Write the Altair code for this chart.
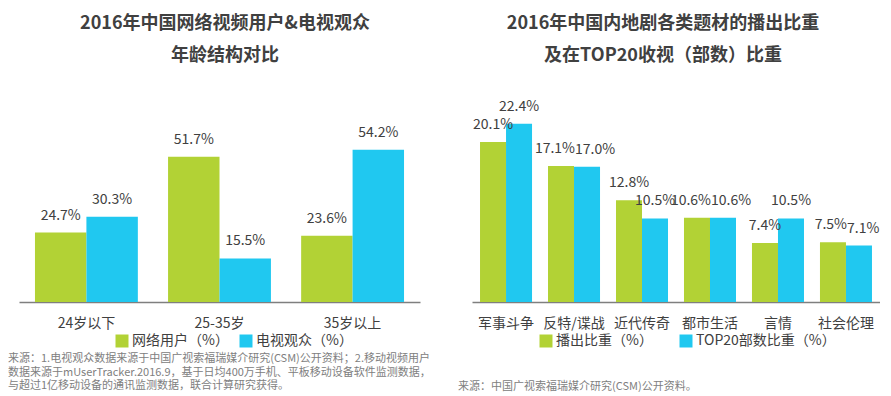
import altair as alt
import pandas as pd

FONT = "Noto Sans CJK SC"
GREEN = "#B2D235"
BLUE = "#20C8F0"
DARK = "#404040"
GRAY = "#808080"

# ---- left panel data ----
age_groups = ["24岁以下", "25-35岁", "35岁以上"]
online_users = [24.7, 51.7, 23.6]
tv_viewers = [30.3, 15.5, 54.2]
left_series = ["网络用户（%）", "电视观众（%）"]
left_title = ["2016年中国网络视频用户&电视观众", "年龄结构对比"]
left_source = [
    "来源：1.电视观众数据来源于中国广视索福瑞媒介研究(CSM)公开资料；2.移动视频用户",
    "数据来源于mUserTracker.2016.9，基于日均400万手机、平板移动设备软件监测数据，",
    "与超过1亿移动设备的通讯监测数据，联合计算研究获得。",
]

# ---- right panel data ----
genres = ["军事斗争", "反特/谍战", "近代传奇", "都市生活", "言情", "社会伦理"]
broadcast_share = [20.1, 17.1, 12.8, 10.6, 7.4, 7.5]
top20_share = [22.4, 17.0, 10.5, 10.6, 10.5, 7.1]
right_series = ["播出比重（%）", "TOP20部数比重（%）"]
right_title = ["2016年中国内地剧各类题材的播出比重", "及在TOP20收视（部数）比重"]
right_source = ["来源：中国广视索福瑞媒介研究(CSM)公开资料。"]

VIEW_H = 222
LABEL_W = 40  # approx. width of a value label in px


def text_line(line, x, y, size, weight, color, align):
    return alt.Chart(pd.DataFrame({"t": [line]})).mark_text(
        font=FONT, fontSize=size, fontWeight=weight, color=color,
        align=align, baseline="middle",
    ).encode(x=alt.value(x), y=alt.value(y), text="t:N")


def panel(cats, s1, s2, names, ymax, width, pi, po, legend_x, col_pad,
          titles, title_x, sources, src_x, src_y, key):
    n = len(cats)
    px_per_unit = VIEW_H / ymax
    step = width / (n - pi + 2 * po)
    bar_w = step * (1 - pi) / 2
    # labels of a pair collide when they sit at almost the same height
    # and a label is wider than its bar
    collide = [abs(a - b) * px_per_unit < 14 and bar_w < LABEL_W
               for a, b in zip(s1, s2)]
    df = pd.DataFrame({
        "cat_" + key: cats * 2,
        "series_" + key: [names[0]] * n + [names[1]] * n,
        "value_" + key: s1 + s2,
        "pos": ["L" if c else "C" for c in collide] + ["R" if c else "C" for c in collide],
    })
    df["label"] = [f"{v:.1f}%" for v in df["value_" + key]]
    base = alt.Chart(df).encode(
        x=alt.X(f"cat_{key}:N", sort=cats,
                scale=alt.Scale(paddingInner=pi, paddingOuter=po),
                axis=alt.Axis(title=None, labelAngle=0, ticks=False,
                              domainColor="#7f7f7f", domainWidth=1.5,
                              labelFontSize=14, labelColor=DARK,
                              labelPadding=14, labelFont=FONT)),
        xOffset=alt.XOffset(f"series_{key}:N", sort=names,
                            scale=alt.Scale(domain=names)),
        y=alt.Y(f"value_{key}:Q", scale=alt.Scale(domain=[0, ymax]), axis=None),
    )
    bars = base.mark_bar().encode(
        color=alt.Color(f"series_{key}:N", sort=names,
                        scale=alt.Scale(domain=names, range=[GREEN, BLUE]),
                        legend=alt.Legend(title=None, orient="none",
                                          legendX=legend_x, legendY=254,
                                          direction="horizontal",
                                          symbolType="square", symbolSize=169,
                                          symbolStrokeWidth=0,
                                          labelFontSize=14, labelColor=DARK,
                                          labelFont=FONT, columnPadding=col_pad,
                                          labelOffset=3, padding=0)),
    )
    half = bar_w / 2
    lab_kw = dict(dy=-17, font=FONT, fontSize=14, color=DARK, baseline="middle")
    labels_c = base.mark_text(**lab_kw).encode(text="label:N").transform_filter(
        alt.datum.pos == "C")
    labels_l = base.mark_text(align="right", dx=half + 1, **lab_kw).encode(
        text="label:N").transform_filter(alt.datum.pos == "L")
    labels_r = base.mark_text(align="left", dx=-half + 1, **lab_kw).encode(
        text="label:N").transform_filter(alt.datum.pos == "R")
    layers = [bars, labels_c, labels_l, labels_r]
    layers.append(text_line(titles[0], title_x, -56.5, 18, "bold", DARK, "center"))
    layers.append(text_line(titles[1], title_x, -24, 18, "bold", DARK, "center"))
    for i, s in enumerate(sources):
        layers.append(text_line(s, src_x, src_y + i * 13.5, 11, "normal", GRAY, "left"))
    return alt.layer(*layers).properties(width=width, height=VIEW_H)


left = panel(age_groups, online_users, tv_viewers, left_series, 79.0, 401,
             0.227, 0.12, 96, 10, left_title, 206, left_source, -11, 279, "a")
right = panel(genres, broadcast_share, top20_share, right_series, 27.9, 408,
              0.235, 0.118, 67, 26, right_title, 191, right_source, -14, 307, "b")

chart = alt.hconcat(left, right, spacing=52, bounds="flush").resolve_scale(
    color="independent", xOffset="independent", x="independent", y="independent"
).properties(
    padding={"left": 0, "top": 6, "right": 0, "bottom": 0}
).configure(font=FONT).configure_view(strokeWidth=0)

chart.save("out.html", embed_options={"renderer": "svg", "actions": False})
